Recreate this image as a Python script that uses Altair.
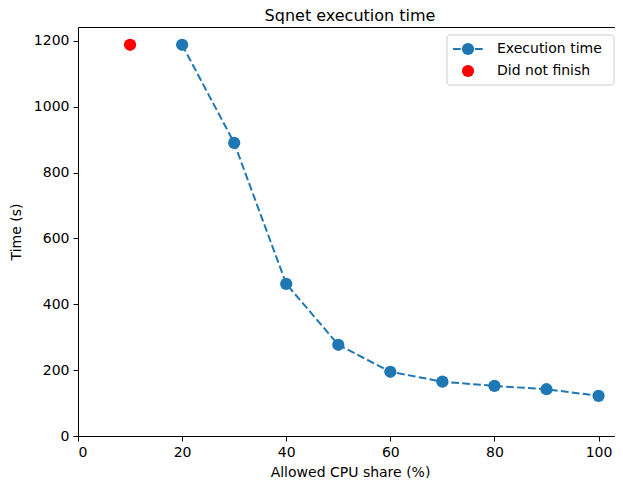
import altair as alt
import pandas as pd

share = [20, 30, 40, 50, 60, 70, 80, 90, 100]
exec_time = [1188, 890, 462, 277, 195, 165, 152, 142, 122]
dnf_share = [10]
dnf_time = [1188]

x_ticks = [0, 20, 40, 60, 80, 100]
y_ticks = [0, 200, 400, 600, 800, 1000, 1200]

BLUE = "#1f77b4"
FONT = "DejaVu Sans"

df = pd.DataFrame({"share": share, "time": exec_time})
dnf = pd.DataFrame({"share": dnf_share, "time": dnf_time})

xs = alt.Scale(domain=[0, 104.5], nice=False, zero=False)
ys = alt.Scale(domain=[0, 1242], nice=False, zero=False)

X = alt.X("share:Q", scale=xs, title="Allowed CPU share (%)",
          axis=alt.Axis(values=x_ticks, grid=False, format="d", titlePadding=6))
Y = alt.Y("time:Q", scale=ys, title="Time (s)",
          axis=alt.Axis(values=y_ticks, grid=False, format="d", titlePadding=10))

line = alt.Chart(df).mark_line(color=BLUE, strokeWidth=2, strokeDash=[7.7, 3.3]).encode(x=X, y=Y)
pts = alt.Chart(df).mark_point(filled=True, color=BLUE, size=150, opacity=1).encode(x=X, y=Y)
red = alt.Chart(dnf).mark_point(filled=True, color="red", size=150, opacity=1).encode(x=X, y=Y)

# legend
leg_src = alt.Chart(pd.DataFrame({"k": [0]}))
box = leg_src.mark_rect(fill="white", fillOpacity=0.8, stroke="#cccccc", strokeWidth=1, cornerRadius=3).encode(
    x=alt.value(369), x2=alt.value(536), y=alt.value(8), y2=alt.value(58))
leg_line = leg_src.mark_rule(color=BLUE, strokeWidth=2, strokeDash=[7.7, 3.3]).encode(
    x=alt.value(375), x2=alt.value(405), y=alt.value(22))
leg_pt = leg_src.mark_point(filled=True, color=BLUE, size=150, opacity=1).encode(
    x=alt.value(390), y=alt.value(22))
leg_red = leg_src.mark_point(filled=True, color="red", size=150, opacity=1).encode(
    x=alt.value(390), y=alt.value(44))
leg_t1 = leg_src.mark_text(align="left", baseline="middle", font=FONT, fontSize=14, color="black").encode(
    x=alt.value(419), y=alt.value(22), text=alt.value("Execution time"))
leg_t2 = leg_src.mark_text(align="left", baseline="middle", font=FONT, fontSize=14, color="black").encode(
    x=alt.value(419), y=alt.value(44), text=alt.value("Did not finish"))

chart = alt.layer(line, pts, red, box, leg_line, leg_pt, leg_red, leg_t1, leg_t2).properties(
    width=544, height=409,
    title=alt.TitleParams("Sqnet execution time", font=FONT, fontSize=16, fontWeight="normal",
                          color="black", offset=3),
    autosize=alt.AutoSizeParams(type="none"),
    padding={"left": 70, "top": 19, "right": -7, "bottom": 42},
    background="white",
).configure_view(stroke="black", strokeWidth=1).configure_axis(
    labelFont=FONT, labelFontSize=14, labelColor="black",
    titleFont=FONT, titleFontSize=14, titleFontWeight="normal", titleColor="black",
    tickColor="black", tickSize=5, tickWidth=1, domainColor="black", domainWidth=1,
    labelPadding=4,
)

chart.save("out.html", embed_options={"renderer": "svg", "actions": False})
